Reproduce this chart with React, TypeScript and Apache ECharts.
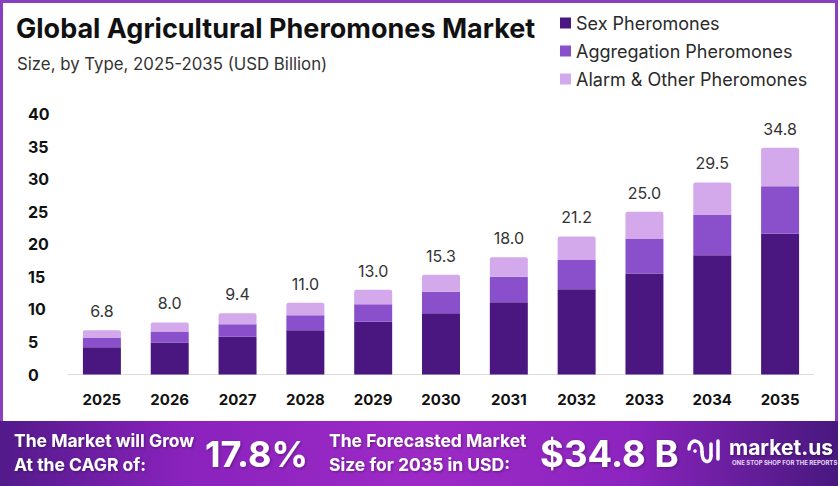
import React, { useEffect, useRef } from "react";
import * as echarts from "echarts";

const years = ["2025", "2026", "2027", "2028", "2029", "2030", "2031", "2032", "2033", "2034", "2035"];
const sexPheromones = [4.2, 4.9, 5.8, 6.8, 8.1, 9.4, 11.1, 13.1, 15.5, 18.3, 21.6];
const aggregationPheromones = [1.4, 1.7, 1.9, 2.3, 2.7, 3.3, 3.9, 4.5, 5.3, 6.2, 7.3];
const alarmOtherPheromones = [1.2, 1.4, 1.7, 1.9, 2.2, 2.6, 3.0, 3.6, 4.2, 5.0, 5.9];
const totals = [6.8, 8.0, 9.4, 11.0, 13.0, 15.3, 18.0, 21.2, 25.0, 29.5, 34.8];
const seriesNames = ["Sex Pheromones", "Aggregation Pheromones", "Alarm & Other Pheromones"];
const colors = ["#4a1780", "#8a4fca", "#d3a9ec"];

const FONT = "Inter, 'Open Sans', sans-serif";

export default function App() {
  const ref = useRef<HTMLDivElement>(null);

  useEffect(() => {
    document.body.style.margin = "0";
    if (!ref.current) return;
    const chart = echarts.init(ref.current, undefined, { renderer: "svg" });

    const bannerText = {
      fill: "#ffffff",
      fontFamily: FONT,
      fontWeight: 700,
      textShadowColor: "rgba(0,0,0,0.35)",
      textShadowBlur: 3,
      textShadowOffsetX: 1,
      textShadowOffsetY: 1,
    };

    const option: any = {
      animation: false,
      backgroundColor: "#ffffff",
      textStyle: { fontFamily: FONT },
      title: [
        {
          text: "Global Agricultural Pheromones Market",
          left: 11,
          top: 10,
          textStyle: { fontSize: 27, fontWeight: 700, color: "#111111", fontFamily: FONT },
        },
        {
          text: "Size, by Type, 2025-2035 (USD Billion)",
          left: 12,
          top: 50,
          textStyle: { fontSize: 16.8, fontWeight: 400, color: "#333333", fontFamily: FONT },
        },
      ],
      legend: {
        orient: "vertical",
        left: 555,
        top: 9,
        itemWidth: 11,
        itemHeight: 11,
        itemGap: 10,
        icon: "rect",
        textStyle: { fontSize: 18, color: "#2a2a2a", fontFamily: FONT },
        data: seriesNames,
      },
      grid: { left: 68, right: 26, top: 114, bottom: 111.5 },
      xAxis: {
        type: "category",
        data: years,
        axisLine: { lineStyle: { color: "#dddddd", width: 1 } },
        axisTick: { show: false },
        axisLabel: { color: "#111111", fontWeight: 700, fontSize: 15, margin: 17, fontFamily: FONT },
      },
      yAxis: {
        type: "value",
        min: 0,
        max: 40,
        interval: 5,
        splitLine: { show: false },
        axisLine: { show: false },
        axisTick: { show: false },
        axisLabel: { color: "#111111", fontWeight: 700, fontSize: 16, margin: 40, align: "left", fontFamily: FONT },
      },
      series: [
        {
          name: seriesNames[0],
          type: "bar",
          stack: "total",
          barWidth: "56%",
          data: sexPheromones,
          itemStyle: { color: colors[0] },
        },
        {
          name: seriesNames[1],
          type: "bar",
          stack: "total",
          data: aggregationPheromones,
          itemStyle: { color: colors[1] },
        },
        {
          name: seriesNames[2],
          type: "bar",
          stack: "total",
          data: alarmOtherPheromones,
          itemStyle: { color: colors[2], borderRadius: [2, 2, 0, 0] },
          label: {
            show: true,
            position: "top",
            distance: 11,
            color: "#333333",
            fontSize: 16,
            fontFamily: FONT,
            formatter: (p: any) => totals[p.dataIndex].toFixed(1),
          },
        },
      ],
      graphic: [
        {
          type: "rect",
          shape: { x: 1.5, y: 1.5, width: 835, height: 440 },
          style: { fill: "none", stroke: "#8a3fc0", lineWidth: 3 },
          silent: true,
          z: 10,
        },
        {
          type: "rect",
          shape: { x: 0, y: 421, width: 838, height: 65 },
          style: {
            fill: new echarts.graphic.LinearGradient(0, 0, 1, 0, [
              { offset: 0, color: "#521a8a" },
              { offset: 0.22, color: "#8a22bd" },
              { offset: 0.5, color: "#9d2ac6" },
              { offset: 0.75, color: "#8c24bf" },
              { offset: 1, color: "#48187e" },
            ]),
          },
          z: 11,
        },
        {
          type: "text",
          x: 14,
          y: 440,
          style: { ...bannerText, text: "The Market will Grow", fontSize: 17.5, textVerticalAlign: "middle" },
          z: 12,
        },
        {
          type: "text",
          x: 14,
          y: 464,
          style: { ...bannerText, text: "At the CAGR of:", fontSize: 17.5, textVerticalAlign: "middle" },
          z: 12,
        },
        {
          type: "text",
          x: 205,
          y: 454,
          style: { ...bannerText, text: "17.8%", fontSize: 36, textVerticalAlign: "middle" },
          z: 12,
        },
        {
          type: "text",
          x: 329,
          y: 440,
          style: { ...bannerText, text: "The Forecasted Market", fontSize: 17.5, textVerticalAlign: "middle" },
          z: 12,
        },
        {
          type: "text",
          x: 329,
          y: 464,
          style: { ...bannerText, text: "Size for 2035 in USD:", fontSize: 17.5, textVerticalAlign: "middle" },
          z: 12,
        },
        {
          type: "text",
          x: 540,
          y: 454,
          style: { ...bannerText, text: "$34.8 B", fontSize: 36.5, textVerticalAlign: "middle" },
          z: 12,
        },
        {
          type: "bezierCurve",
          shape: { x1: 689, y1: 449, cpx1: 689, cpy1: 438, cpx2: 703, cpy2: 438, x2: 702, y2: 452 },
          style: { stroke: "#ffffff", lineWidth: 3.5, fill: "none", lineCap: "round" },
          z: 12,
        },
        {
          type: "bezierCurve",
          shape: { x1: 702, y1: 452, cpx1: 702, cpy1: 464, cpx2: 711, cpy2: 464, x2: 711, y2: 456 },
          style: { stroke: "#ffffff", lineWidth: 3.5, fill: "none", lineCap: "round" },
          z: 12,
        },
        {
          type: "line",
          shape: { x1: 711, y1: 456, x2: 711, y2: 444 },
          style: { stroke: "#ffffff", lineWidth: 3.5, lineCap: "round" },
          z: 12,
        },
        {
          type: "line",
          shape: { x1: 718, y1: 459, x2: 718, y2: 441 },
          style: { stroke: "#ffffff", lineWidth: 3.5, lineCap: "round" },
          z: 12,
        },
        {
          type: "circle",
          shape: { cx: 695, cy: 451, r: 1.8 },
          style: { fill: "#ffffff" },
          z: 12,
        },
        {
          type: "text",
          x: 729,
          y: 447,
          style: { ...bannerText, text: "market.us", fontSize: 21, textVerticalAlign: "middle" },
          z: 12,
        },
        {
          type: "text",
          x: 732,
          y: 462.5,
          style: {
            text: "ONE STOP SHOP FOR THE REPORTS",
            fill: "#e8d8f5",
            fontSize: 6,
            fontWeight: 700,
            fontFamily: FONT,
            textVerticalAlign: "middle",
          },
          z: 12,
        },
      ],
    };

    chart.setOption(option);
    return () => chart.dispose();
  }, []);

  return <div ref={ref} style={{ width: 840, height: 486 }} />;
}
